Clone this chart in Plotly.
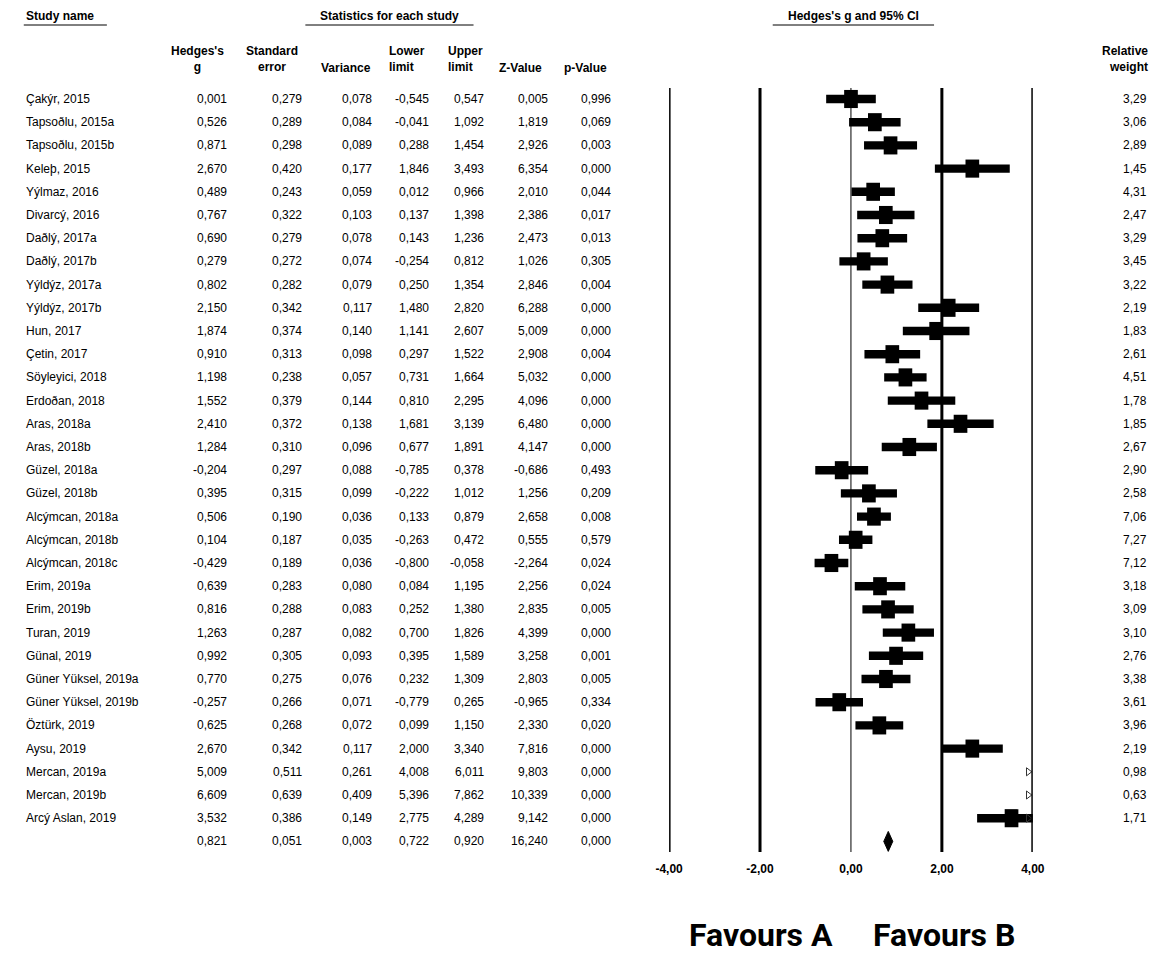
import plotly.graph_objects as go

# ---------------- data ----------------
studies = [
    "Çakýr, 2015", "Tapsoðlu, 2015a", "Tapsoðlu, 2015b", "Keleþ, 2015", "Yýlmaz, 2016",
    "Divarcý, 2016", "Daðlý, 2017a", "Daðlý, 2017b", "Yýldýz, 2017a", "Yýldýz, 2017b",
    "Hun, 2017", "Çetin, 2017", "Söyleyici, 2018", "Erdoðan, 2018", "Aras, 2018a",
    "Aras, 2018b", "Güzel, 2018a", "Güzel, 2018b", "Alcýmcan, 2018a", "Alcýmcan, 2018b",
    "Alcýmcan, 2018c", "Erim, 2019a", "Erim, 2019b", "Turan, 2019", "Günal, 2019",
    "Güner Yüksel, 2019a", "Güner Yüksel, 2019b", "Öztürk, 2019", "Aysu, 2019",
    "Mercan, 2019a", "Mercan, 2019b", "Arcý Aslan, 2019",
]
hedges_g = [0.001, 0.526, 0.871, 2.670, 0.489, 0.767, 0.690, 0.279, 0.802, 2.150,
            1.874, 0.910, 1.198, 1.552, 2.410, 1.284, -0.204, 0.395, 0.506, 0.104,
            -0.429, 0.639, 0.816, 1.263, 0.992, 0.770, -0.257, 0.625, 2.670, 5.009,
            6.609, 3.532]
std_err = [0.279, 0.289, 0.298, 0.420, 0.243, 0.322, 0.279, 0.272, 0.282, 0.342,
           0.374, 0.313, 0.238, 0.379, 0.372, 0.310, 0.297, 0.315, 0.190, 0.187,
           0.189, 0.283, 0.288, 0.287, 0.305, 0.275, 0.266, 0.268, 0.342, 0.511,
           0.639, 0.386]
variance = [0.078, 0.084, 0.089, 0.177, 0.059, 0.103, 0.078, 0.074, 0.079, 0.117,
            0.140, 0.098, 0.057, 0.144, 0.138, 0.096, 0.088, 0.099, 0.036, 0.035,
            0.036, 0.080, 0.083, 0.082, 0.093, 0.076, 0.071, 0.072, 0.117, 0.261,
            0.409, 0.149]
lower_limit = [-0.545, -0.041, 0.288, 1.846, 0.012, 0.137, 0.143, -0.254, 0.250, 1.480,
               1.141, 0.297, 0.731, 0.810, 1.681, 0.677, -0.785, -0.222, 0.133, -0.263,
               -0.800, 0.084, 0.252, 0.700, 0.395, 0.232, -0.779, 0.099, 2.000, 4.008,
               5.396, 2.775]
upper_limit = [0.547, 1.092, 1.454, 3.493, 0.966, 1.398, 1.236, 0.812, 1.354, 2.820,
               2.607, 1.522, 1.664, 2.295, 3.139, 1.891, 0.378, 1.012, 0.879, 0.472,
               -0.058, 1.195, 1.380, 1.826, 1.589, 1.309, 0.265, 1.150, 3.340, 6.011,
               7.862, 4.289]
z_value = [0.005, 1.819, 2.926, 6.354, 2.010, 2.386, 2.473, 1.026, 2.846, 6.288,
           5.009, 2.908, 5.032, 4.096, 6.480, 4.147, -0.686, 1.256, 2.658, 0.555,
           -2.264, 2.256, 2.835, 4.399, 3.258, 2.803, -0.965, 2.330, 7.816, 9.803,
           10.339, 9.142]
p_value = [0.996, 0.069, 0.003, 0.000, 0.044, 0.017, 0.013, 0.305, 0.004, 0.000,
           0.000, 0.004, 0.000, 0.000, 0.000, 0.000, 0.493, 0.209, 0.008, 0.579,
           0.024, 0.024, 0.005, 0.000, 0.001, 0.005, 0.334, 0.020, 0.000, 0.000,
           0.000, 0.000]
rel_weight = [3.29, 3.06, 2.89, 1.45, 4.31, 2.47, 3.29, 3.45, 3.22, 2.19,
              1.83, 2.61, 4.51, 1.78, 1.85, 2.67, 2.90, 2.58, 7.06, 7.27,
              7.12, 3.18, 3.09, 3.10, 2.76, 3.38, 3.61, 3.96, 2.19, 0.98,
              0.63, 1.71]

summary_g = 0.821
summary_se = 0.051
summary_var = 0.003
summary_lower = 0.722
summary_upper = 0.920
summary_z = 16.240
summary_p = 0.000

axis_ticks = [-4, -2, 0, 2, 4]
axis_tick_labels = ["-4,00", "-2,00", "0,00", "2,00", "4,00"]
col_headers = ["Hedges's<br>g", "Standard<br>error", "Variance", "Lower<br>limit",
               "Upper<br>limit", "Z-Value", "p-Value"]

# ---------------- layout helpers ----------------
W, H = 1168, 957
ROW0, ROWH = 99.0, 23.2          # pixel y of first row, row spacing
X_LO, X_HI = -4, 4
AX_L, AX_R = 670, 1042           # pixel extent of the forest axis
LINE_TOP, LINE_BOT = 88, 852

def px(x):
    return x / W

def py(y):
    return 1 - y / H

def fmt3(v):
    return f"{v:.3f}".replace(".", ",")

def fmt2(v):
    return f"{v:.2f}".replace(".", ",")

FONT = "Liberation Sans"
n = len(studies)
rows = list(range(n))
sum_row = n

fig = go.Figure()

# CI bars
fig.add_trace(go.Bar(
    y=rows, x=[u - l for l, u in zip(lower_limit, upper_limit)], base=lower_limit,
    orientation="h", width=0.36, marker=dict(color="black", line=dict(width=0)),
    showlegend=False, hoverinfo="skip"))

# point-estimate boxes
half_w = 7 * (X_HI - X_LO) / (AX_R - AX_L)
fig.add_trace(go.Bar(
    y=rows, x=[2 * half_w] * n, base=[v - half_w for v in hedges_g],
    orientation="h", width=0.78, marker=dict(color="black", line=dict(width=0)),
    showlegend=False, hoverinfo="skip"))

# off-scale arrows
arrow_rows = [r for r in rows if upper_limit[r] > X_HI]
fig.add_trace(go.Scatter(
    x=[X_HI - 0.1] * len(arrow_rows), y=arrow_rows, mode="markers",
    marker=dict(symbol="triangle-right-open", size=7, color="#333",
                line=dict(width=1, color="#333")),
    showlegend=False, hoverinfo="skip"))

# summary diamond
dh = 0.43
fig.add_trace(go.Scatter(
    x=[summary_lower, summary_g, summary_upper, summary_g, summary_lower],
    y=[sum_row, sum_row - dh, sum_row, sum_row + dh, sum_row],
    mode="lines", fill="toself", fillcolor="black",
    line=dict(color="black", width=1), showlegend=False, hoverinfo="skip"))

# vertical reference lines
shapes = []
for t in axis_ticks:
    shapes.append(dict(type="line", xref="x", yref="paper", x0=t, x1=t,
                       y0=py(LINE_BOT), y1=py(LINE_TOP),
                       line=dict(color="black", width=1 if t == 0 else 3)))

# header underlines
for x0, x1 in [(10, 95), (298, 470), (776, 941)]:
    shapes.append(dict(type="line", xref="paper", yref="paper",
                       x0=px(x0), x1=px(x1), y0=py(25), y1=py(25),
                       line=dict(color="black", width=1)))

ann = []
def head(text, x, y, xanchor, size=12):
    ann.append(dict(text=f"<b>{text}</b>", x=px(x), y=py(y), xref="paper", yref="paper",
                    xanchor=xanchor, yanchor="middle", showarrow=False,
                    font=dict(family=FONT, size=size, color="black"),
                    align=xanchor if xanchor != "center" else "center"))

head("Study name", 10, 16, "left")
head("Statistics for each study", 384, 16, "center")
head("Hedges's g and 95% CI", 859, 16, "center")

col_head_pos = [(188, "center"), (264, "center"), (340, "center"), (382, "left"),
                (442, "left"), (518, "center"), (585, "center")]
for txt, (x, xa) in zip(col_headers, col_head_pos):
    yc = 59 if "<br>" in txt else 68
    head(txt, x, yc, xa)
head("Relative<br>weight", 1162, 59, "right")

# table body
col_right = [220, 297, 368, 427, 483, 548, 613]
cols = [hedges_g, std_err, variance, lower_limit, upper_limit, z_value, p_value]
cfont = dict(family=FONT, size=12, color="black")
for r in rows:
    ann.append(dict(text=studies[r], x=px(10), y=r, xref="paper", yref="y",
                    xanchor="left", yanchor="middle", showarrow=False, font=cfont))
    for xr, col in zip(col_right, cols):
        ann.append(dict(text=fmt3(col[r]), x=px(xr), y=r, xref="paper", yref="y",
                        xanchor="right", yanchor="middle", showarrow=False, font=cfont))
    ann.append(dict(text=fmt2(rel_weight[r]), x=px(1161), y=r, xref="paper", yref="y",
                    xanchor="right", yanchor="middle", showarrow=False, font=cfont))

summary_vals = [summary_g, summary_se, summary_var, summary_lower, summary_upper,
                summary_z, summary_p]
for xr, v in zip(col_right, summary_vals):
    ann.append(dict(text=fmt3(v), x=px(xr), y=sum_row, xref="paper", yref="y",
                    xanchor="right", yanchor="middle", showarrow=False, font=cfont))

# favours labels
for txt, x in [("Favours A", 688), ("Favours B", 877)]:
    ann.append(dict(text=f"<b>{txt}</b>", x=px(x), y=py(935), xref="paper", yref="paper",
                    xanchor="left", yanchor="middle", showarrow=False,
                    font=dict(family="Roboto", size=32, color="black")))

fig.update_layout(
    width=W, height=H, margin=dict(l=0, r=0, t=0, b=0), autosize=False,
    paper_bgcolor="white", plot_bgcolor="white",
    barmode="overlay", showlegend=False,
    shapes=shapes, annotations=ann,
    xaxis=dict(domain=[px(AX_L), px(AX_R)], range=[X_LO, X_HI],
               anchor="free", position=py(LINE_BOT),
               tickvals=axis_ticks, ticktext=axis_tick_labels,
               tickfont=dict(family=FONT, size=12, color="black", weight="bold"),
               ticks="outside", ticklen=6, tickcolor="rgba(0,0,0,0)",
               showgrid=False, zeroline=False, showline=False, fixedrange=True),
    yaxis=dict(domain=[0, 1], range=[(H - ROW0) / ROWH, -ROW0 / ROWH],
               visible=False, fixedrange=True),
)

fig.write_html("out.html", config=dict(displayModeBar=False),
               post_script="document.body.style.margin='0';")
